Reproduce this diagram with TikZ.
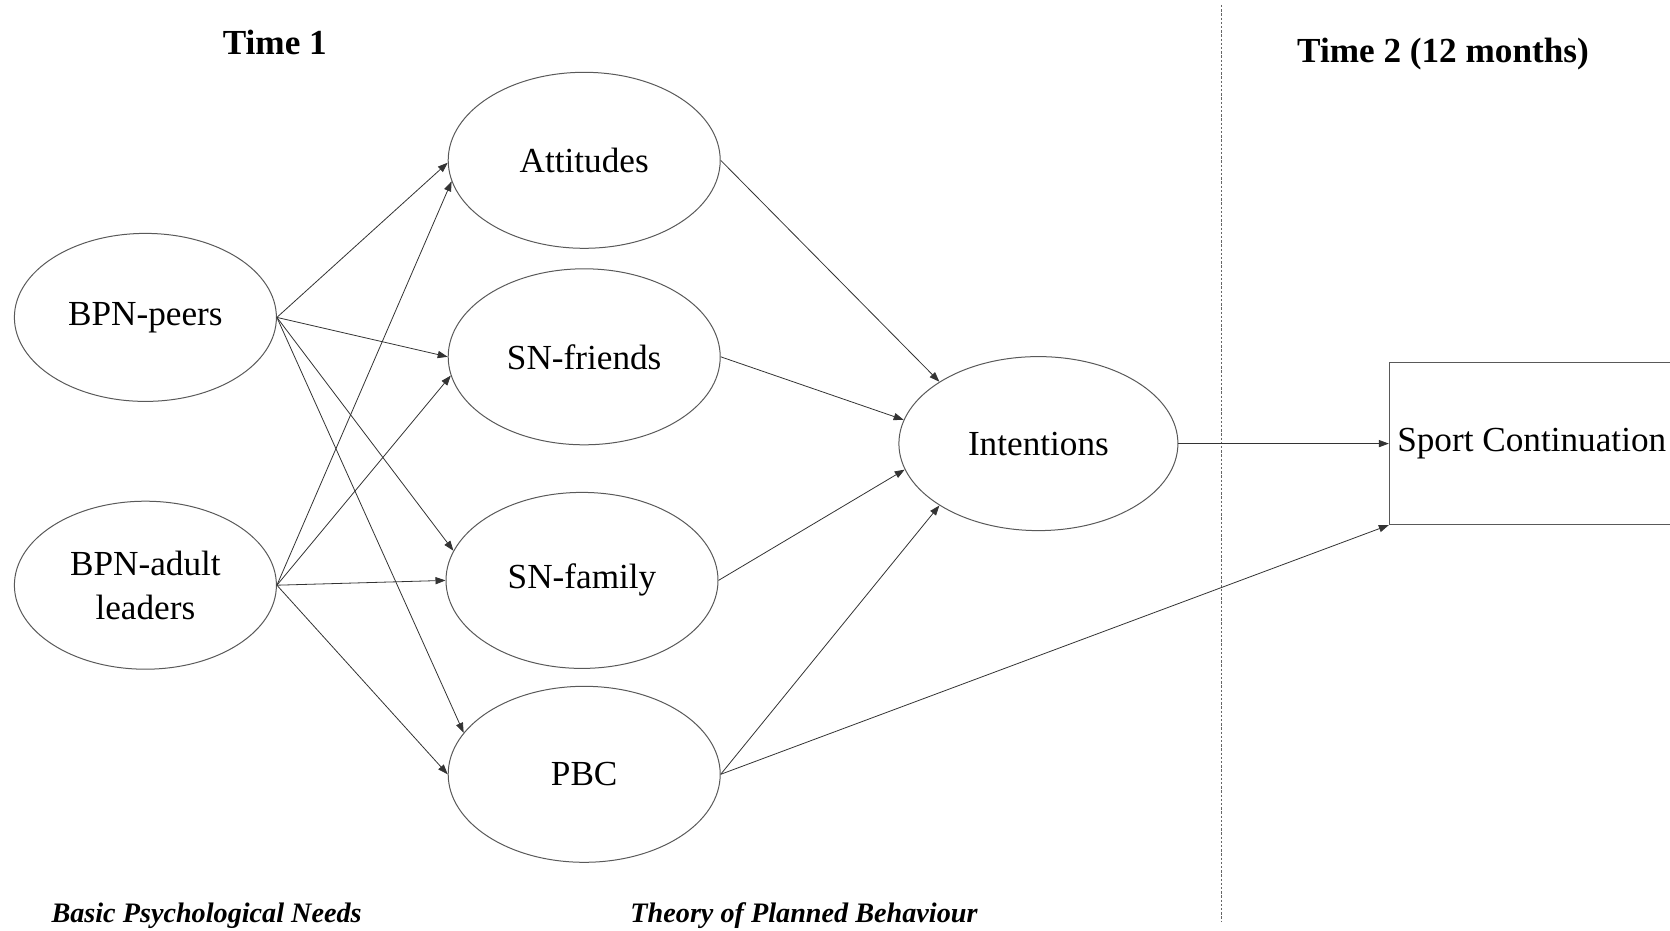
\documentclass[tikz,border=0pt]{standalone}
\usepackage{fontspec}
\setmainfont{Liberation Serif}
\usetikzlibrary{arrows.meta,shapes.geometric}
\tikzset{
  latent/.style  = {draw=black!65, line width=0.5pt, ellipse, inner sep=0pt,
                    minimum width=131pt, minimum height=84pt, align=center,
                    font=\fontsize{17.6}{21.8}\selectfont},
  tpb/.style     = {latent, minimum width=136pt, minimum height=88pt},
  outbox/.style  = {draw=black!65, line width=0.5pt, rectangle, anchor=west,
                    minimum height=81pt, inner xsep=4pt,
                    font=\fontsize{17.6}{21.8}\selectfont},
  sig/.style     = {-{Triangle[length=5pt,width=3.6pt]}, line width=0.4pt, draw=black!80},
  heading/.style = {font=\bfseries\fontsize{17.6}{21}\selectfont},
  theory/.style  = {font=\bfseries\itshape\fontsize{14.1}{17}\selectfont},
  divider/.style = {draw=black!60, line width=0.4pt, dash pattern=on 1.2pt off 0.9pt},
}

\begin{document}
\begin{tikzpicture}[x=0.5pt,y=-0.5pt]
\useasboundingbox (0,0) rectangle (1670,931);
% constructs
\node[latent] (BPNp) at (145.4,317.4) {BPN-peers};
\node[latent] (BPNa) at (145.4,585.2) {BPN-adult\\leaders};
\node[tpb] (Att) at (584.2,160.3) {Attitudes};
\node[tpb] (SNfr) at (584.2,356.8) {SN-friends};
\node[tpb] (SNfa) at (582,580.4) {SN-family};
\node[tpb] (PBC) at (584.2,774.3) {PBC};
\node[latent, minimum width=139.5pt, minimum height=87pt] (Int) at (1038.4,443.6) {Intentions};
\node[outbox] (SC) at (1388.8,443.6) {Sport Continuation};
% headings
\node[heading] (T1) at (274.8,42.6) {Time 1};
\node[heading] (T2) at (1443,54) {Time 2 (12 months)};
\node[theory] (BPNlab) at (206.6,915.5) {Basic Psychological Needs};
\node[theory] (TPBlab) at (804,915.5) {Theory of Planned Behaviour};
\coordinate (Dtop) at (1221.6,5);
\coordinate (Dbot) at (1221.6,921);
\draw[divider] (Dtop) -- (Dbot);
% paths
\draw[sig] (BPNp.east) -- (Att.181);
\draw[sig] (BPNp.east) -- (SNfr.180);
\draw[sig] (BPNp.east) -- (SNfa.167.5);
\draw[sig] (BPNp.east) -- (PBC.161.6);
\draw[sig] (BPNa.east) -- (Att.189);
\draw[sig] (BPNa.east) -- (SNfr.188.7);
\draw[sig] (BPNa.east) -- (SNfa.180);
\draw[sig] (BPNa.east) -- (PBC.180);
\draw[sig] (Att.east) -- (Int.148);
\draw[sig] (SNfr.east) -- (Int.170.8);
\draw[sig] (SNfa.east) -- (Int.191.3);
\draw[sig] (PBC.east) -- (Int.212.5);
\draw[sig] (Int.east) -- (SC.west);
\draw[sig] (PBC.east) -- (SC.south west);
\end{tikzpicture}
\end{document}
